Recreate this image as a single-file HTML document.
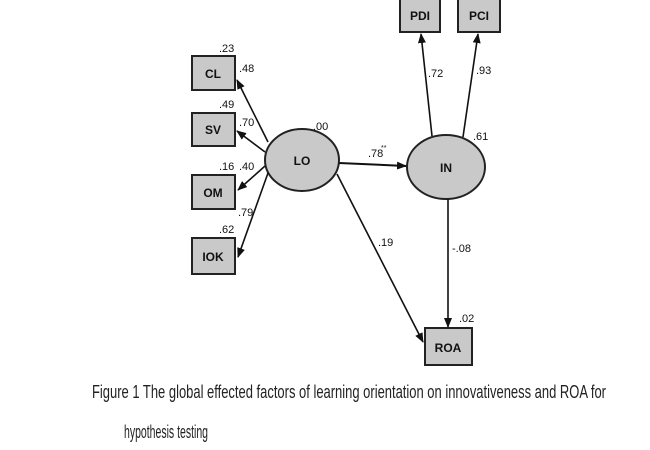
<!DOCTYPE html>
<html><head><style>body{margin:0;background:#fff}svg{display:block}</style></head><body>
<svg width="650" height="450" viewBox="0 0 650 450" xmlns="http://www.w3.org/2000/svg" font-family="Liberation Sans, sans-serif">
<defs><marker id="a" markerWidth="10" markerHeight="8" refX="9" refY="4" orient="auto" markerUnits="userSpaceOnUse"><path d="M0,0 L10,4 L0,8 z" fill="#111"/></marker></defs>
<g fill="#c9c9c9" stroke="#222" stroke-width="2">
<rect x="192" y="56" width="43" height="34"/>
<rect x="192" y="113" width="43" height="33"/>
<rect x="192" y="175" width="43" height="34"/>
<rect x="192" y="238" width="43" height="36"/>
<rect x="400" y="-2" width="40" height="34"/>
<rect x="458" y="-2" width="42" height="34"/>
<rect x="425" y="328" width="47" height="37"/>
<ellipse cx="302" cy="160" rx="37" ry="31"/>
<ellipse cx="446" cy="167" rx="39" ry="32"/>
</g>
<g stroke="#111" stroke-width="1.6" marker-end="url(#a)">
<line x1="268" y1="142" x2="237" y2="80"/>
<line x1="265" y1="152" x2="237" y2="131"/>
<line x1="265" y1="166" x2="238" y2="190"/>
<line x1="268" y1="173" x2="238" y2="257"/>
<line x1="339" y1="163" x2="406" y2="166" stroke-width="2"/>
<line x1="337" y1="174" x2="423" y2="342"/>
<line x1="432" y1="136" x2="421" y2="34"/>
<line x1="463" y1="137" x2="478" y2="34"/>
<line x1="448" y1="199" x2="448" y2="327"/>
</g>
<g font-size="12" font-weight="bold" text-anchor="middle" fill="#111">
<text x="213" y="78">CL</text><text x="213" y="134">SV</text><text x="213" y="197">OM</text><text x="213" y="261">IOK</text>
<text x="420" y="20">PDI</text><text x="479" y="20">PCI</text><text x="448" y="352">ROA</text>
<text x="302" y="165">LO</text><text x="446" y="172">IN</text>
</g>
<g font-size="11" fill="#111">
<text x="219" y="52">.23</text><text x="239" y="72">.48</text>
<text x="219" y="108">.49</text><text x="239" y="126">.70</text>
<text x="219" y="170">.16</text><text x="239" y="170">.40</text>
<text x="219" y="233">.62</text><text x="238" y="216">.79</text>
<text x="313" y="130">.00</text><text x="368" y="157">.78</text><text x="381" y="150" font-size="7">**</text>
<text x="428" y="77">.72</text><text x="476" y="74">.93</text>
<text x="473" y="140">.61</text><text x="378" y="246">.19</text>
<text x="452" y="252">-.08</text><text x="459" y="322">.02</text>
</g>
<g font-size="18" fill="#222">
<text x="92" y="398" textLength="514" lengthAdjust="spacingAndGlyphs">Figure 1 The global effected factors of learning orientation on innovativeness and ROA for</text>
<text x="124" y="438" textLength="84" lengthAdjust="spacingAndGlyphs">hypothesis testing</text>
</g>
</svg>
</body></html>
